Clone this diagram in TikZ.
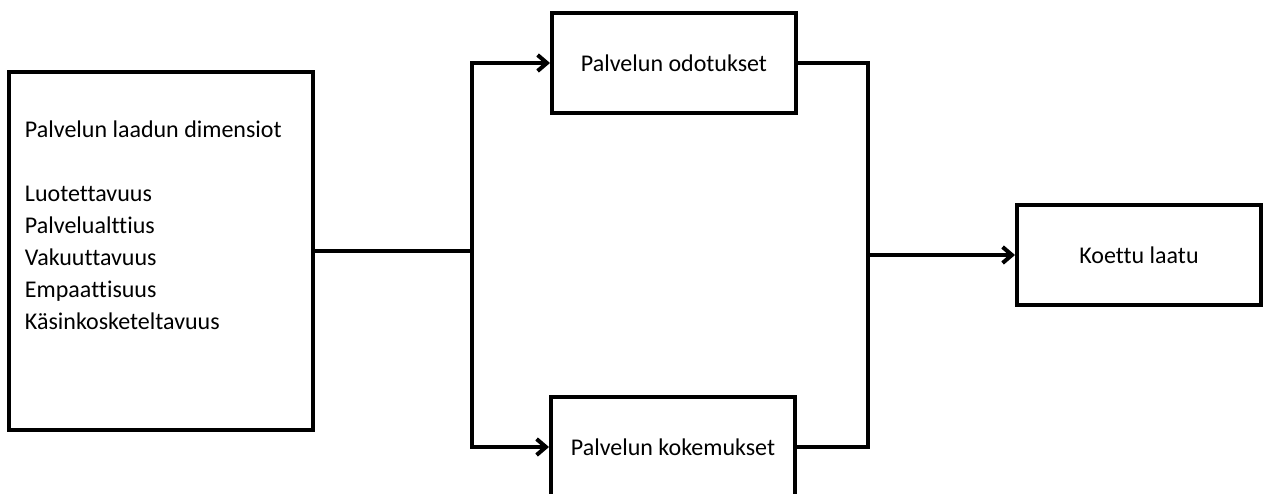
\documentclass[tikz,border=0pt]{standalone}
\usepackage{fontspec}
\setmainfont{Carlito}[Ligatures={NoCommon}]
\usetikzlibrary{arrows.meta,positioning}

\begin{document}
\begin{tikzpicture}[x=0.75pt,y=-0.75pt,>={Straight Barb[length=7pt,width=12pt,line width=3pt]},
  line width=3pt,every node/.style={font=\fontsize{18}{24}\selectfont},
  blok/.style={draw,line width=3pt,minimum width=183pt,minimum height=75pt,inner sep=0pt}]
  \useasboundingbox (0,0) rectangle (1268,493);
  \node[draw,line width=3pt,minimum width=228pt,minimum height=268.5pt] (dims) at (161,251) {};
  \node[anchor=west,align=left,inner sep=0pt] (dimstext) at (23,225)
    {Palvelun laadun dimensiot\\[24pt]Luotettavuus\\Palvelualttius\\Vakuuttavuus\\Empaattisuus\\Käsinkosketeltavuus};
  \node[blok] (expect) at (674,63) {Palvelun odotukset};
  \node[blok] (exper) at (673,447) {Palvelun kokemukset};
  \node[blok] (quality) at (1139,255) {Koettu laatu};
  \coordinate (split) at (472,251);
  \coordinate (join) at (868,255);
  \draw (dims.east) -- (split);
  \draw[->] (split) |- (expect.west);
  \draw[->] (split) |- (exper.west);
  \draw (expect.east) -| (join);
  \draw (exper.east) -| (join);
  \draw[->] (join) -- (quality.west);
\end{tikzpicture}
\end{document}
